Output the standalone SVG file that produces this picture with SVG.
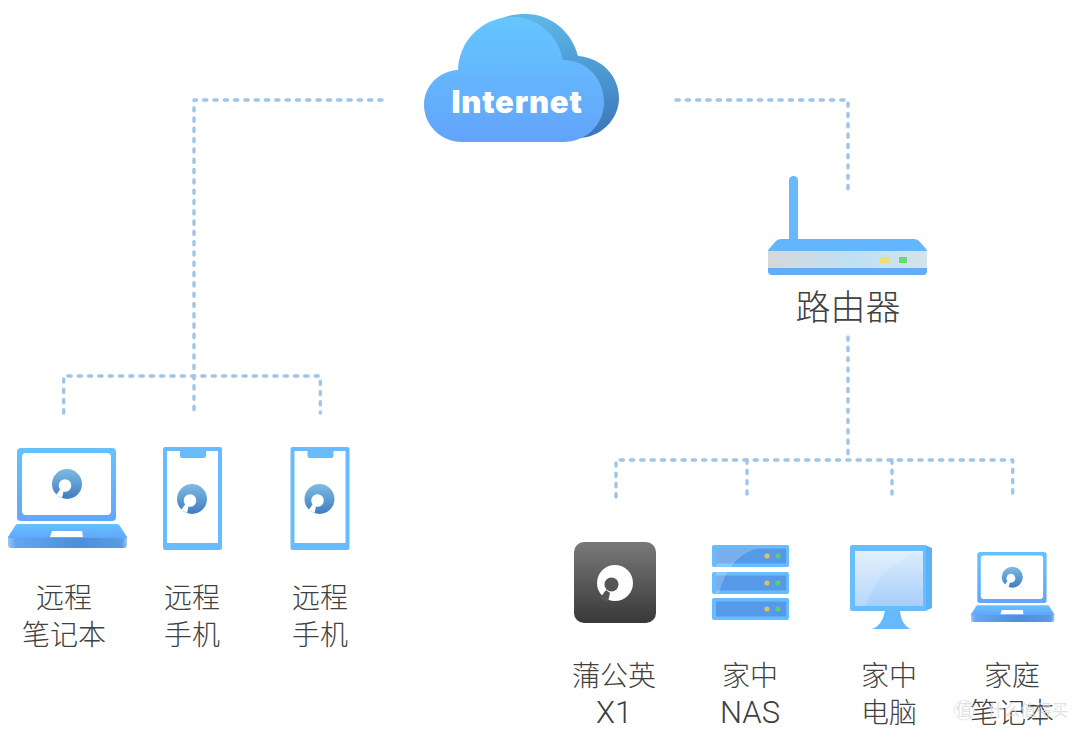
<svg xmlns="http://www.w3.org/2000/svg" xmlns:xlink="http://www.w3.org/1999/xlink" width="1080" height="732" viewBox="0 0 1080 732">
<style>
text{font-family:"Noto Sans CJK SC","Noto Sans",sans-serif;text-anchor:middle;fill:#404040;font-size:28px;font-weight:300}
.lat{font-family:"Roboto","Liberation Sans",sans-serif;font-size:31px;font-weight:300}
.conn{fill:none;stroke:#9fc5e9;stroke-width:3.400;stroke-linecap:round;stroke-linejoin:round;stroke-dasharray:3.200 7.100}
.wm{fill:#d9d9d9;fill-opacity:.8;font-weight:400}
</style>
<defs>
<linearGradient id="gFront" x1="0" y1="0" x2="0" y2="1"><stop offset="0" stop-color="#66c6ff"/><stop offset="1" stop-color="#63a3fb"/></linearGradient>
<linearGradient id="gBack" x1="0" y1="0" x2="0" y2="1"><stop offset="0" stop-color="#5cb8e8"/><stop offset="1" stop-color="#3a72b6"/></linearGradient>
<linearGradient id="gBlue" x1="0" y1="0" x2="0" y2="1"><stop offset="0" stop-color="#66c2ff"/><stop offset="1" stop-color="#62a6fb"/></linearGradient>
<linearGradient id="gBand" x1="0" y1="0" x2="1" y2="0"><stop offset="0" stop-color="#9cc6ee"/><stop offset=".06" stop-color="#62a6f2"/><stop offset=".6" stop-color="#4d8fd8"/><stop offset=".96" stop-color="#5a9ce4"/><stop offset="1" stop-color="#a6c8ec"/></linearGradient>
<linearGradient id="gLogo" x1="0" y1="0" x2="0" y2="1"><stop offset="0" stop-color="#7fbbe2"/><stop offset="1" stop-color="#3f7dc2"/></linearGradient>
<linearGradient id="gX1" x1="0" y1="0" x2="0" y2="1"><stop offset="0" stop-color="#797979"/><stop offset="1" stop-color="#383838"/></linearGradient>
<linearGradient id="gBody" x1="0" y1="0" x2="1" y2="0"><stop offset="0" stop-color="#d4d8da"/><stop offset=".55" stop-color="#bfe0f6"/><stop offset="1" stop-color="#d6e2ec"/></linearGradient>
<linearGradient id="gScreen" x1="0" y1="0" x2="0" y2="1"><stop offset="0" stop-color="#dcedfb"/><stop offset="1" stop-color="#a8cefc"/></linearGradient>
<symbol id="logo" viewBox="-15 -15 30 30" overflow="visible">
<circle r="15" fill="url(#gLogo)"/>
<circle cx="-2" cy="1.500" r="6.300" fill="#fff"/>
<path d="M-6.500 5 L-3.500 7.500 L-5 14 L-11 11 Z" fill="#fff"/>
</symbol>
<g id="laptopShape">
<rect x="17" y="448" width="99" height="73" rx="4" fill="url(#gBlue)"/>
<rect x="22" y="453" width="89" height="62" rx="4" fill="#fff"/>
<path d="M17 524 H117 Q119 524 120 526 L127 537 V538 H8 V537 L15 526 Q16 524 17 524Z" fill="url(#gBlue)"/>
<path d="M8 538 H127 V545 Q127 548 124 548 H11 Q8 548 8 545Z" fill="url(#gBand)"/>
<path d="M52 531 H82 L83 537 H50Z" fill="#fff"/>
<use xlink:href="#logo" href="#logo" x="52" y="469" width="30" height="30"/>
</g>
<g id="phoneShape">
<rect x="163" y="447" width="59" height="103" rx="2" fill="#66bcff"/>
<path d="M167 451 H180 V456 Q180 458 182 458 H204 Q206 458 206 456 V451 H218 V543 H167Z" fill="#fff"/>
<use xlink:href="#logo" href="#logo" x="177" y="484" width="30" height="30"/>
</g>
<g id="nasUnit">
<rect x="712" y="0" width="77" height="22" rx="2" fill="#66bcff"/>
<rect x="716" y="3.500" width="70" height="15" fill="#5599e8"/>
<circle cx="767" cy="11" r="2.600" fill="#e0c060"/>
<circle cx="778" cy="11" r="2.600" fill="#5cd070"/>
</g>
</defs>
<rect width="1080" height="732" fill="#fff"/>
<g id="connectors">
<path class="conn" d="M382 100 H194 V410"/>
<path class="conn" d="M63.700 413 V376 H320.300 V413"/>
<path class="conn" d="M676 100 H848 V192"/>
<path class="conn" d="M848 337 V460"/>
<path class="conn" d="M616 497 V460 H1012.700 V496"/>
<path class="conn" d="M747 460 V497"/>
<path class="conn" d="M892 460 V497"/>
</g>
<g id="internet">
<path d="M500 19 C508 15 517 14 526 14 C551 14 572 32 578 56 C602 58 619 76 619 98 C619 120 600 138 578 138 L550 142 L500 60Z" fill="url(#gBack)"/>
<path d="M458 70 C459 40 483 17 513 17 C538 17 558 35 563 60 C588 60 604 80 604 102 C604 125 586 142 563 142 L462 142 C441 142 424 125 424 105 C424 86 439 71 458 70Z" fill="url(#gFront)"/>
<text x="517" y="113" style="font-family:Inter,'Liberation Sans',sans-serif;font-size:31px;font-weight:900;fill:#fff;letter-spacing:.8px">Internet</text>
</g>
<g id="router">
<rect x="789" y="176" width="9" height="68" rx="4.500" fill="#66b8ff"/>
<path d="M768 268 H927 V271 Q927 275 923 275 H772 Q768 275 768 271Z" fill="#62acfb"/>
<rect x="768" y="250" width="159" height="18" fill="url(#gBody)"/>
<path d="M768 250 L776 241 Q778 239 781 239 H914 Q917 239 919 241 L927 250 Q927 251 925 251 H770 Q768 251 768 250Z" fill="#63b6fd"/>
<rect x="880" y="257" width="9" height="6" fill="#ecdf70"/>
<rect x="899" y="257" width="8" height="6" fill="#5fdc72"/>
<text x="848" y="320" style="font-size:35px">路由器</text>
</g>
<g id="remote-laptop">
<use xlink:href="#laptopShape" href="#laptopShape"/>
<text x="64" y="608">远程</text>
<text x="64" y="645">笔记本</text>
</g>
<g id="remote-phone-1">
<use xlink:href="#phoneShape" href="#phoneShape"/>
<text x="192" y="608">远程</text>
<text x="192" y="645">手机</text>
</g>
<g id="remote-phone-2">
<use xlink:href="#phoneShape" href="#phoneShape" x="127.500"/>
<text x="320" y="608">远程</text>
<text x="320" y="645">手机</text>
</g>
<g id="x1">
<rect x="574" y="542" width="82" height="81" rx="10" fill="url(#gX1)"/>
<circle cx="615" cy="583" r="18" fill="#fff"/>
<circle cx="611.500" cy="584.500" r="7" fill="#555"/>
<path d="M606 590 L610 593 L608 602 L600 598Z" fill="#555"/>
<text x="614" y="686">蒲公英</text>
<text class="lat" x="614" y="723">X1</text>
</g>
<g id="nas">
<use xlink:href="#nasUnit" href="#nasUnit" y="545"/>
<use xlink:href="#nasUnit" href="#nasUnit" y="572"/>
<use xlink:href="#nasUnit" href="#nasUnit" y="598"/>
<path d="M716 548.500 H758 C738 553 725 570 719 594 H716Z" fill="#fff" fill-opacity=".22"/>
<text x="750" y="686">家中</text>
<text class="lat" x="750" y="723">NAS</text>
</g>
<g id="pc">
<path d="M872 629 Q882 626 885 611 H900 Q901 624 910 629Z" fill="#66b8ff"/>
<path d="M925 545 L932 548 V608 L925 611 H900Z" fill="#5cb0f8"/>
<rect x="850" y="545" width="76" height="66" rx="2" fill="#68bdff"/>
<rect x="855" y="551" width="68" height="55" fill="url(#gScreen)"/>
<path d="M855 551 H923 C900 556 875 575 866 606 H855Z" fill="#fff" fill-opacity=".18"/>
<text x="889" y="686">家中</text>
<text x="889" y="723">电脑</text>
</g>
<g id="home-laptop">
<use xlink:href="#laptopShape" href="#laptopShape" transform="translate(965.400 238.400) scale(.7)"/>
<text x="1012" y="686">家庭</text>
<text x="1012" y="723">笔记本</text>
</g>
<g id="watermark">
<circle cx="964" cy="710" r="10" fill="none" stroke="#dedede" stroke-opacity=".7"/>
<text class="wm" x="964" y="716" style="font-size:17px">值</text>
<text class="wm" x="1028" y="716" style="font-size:16px">什么值得买</text>
</g>
</svg>
